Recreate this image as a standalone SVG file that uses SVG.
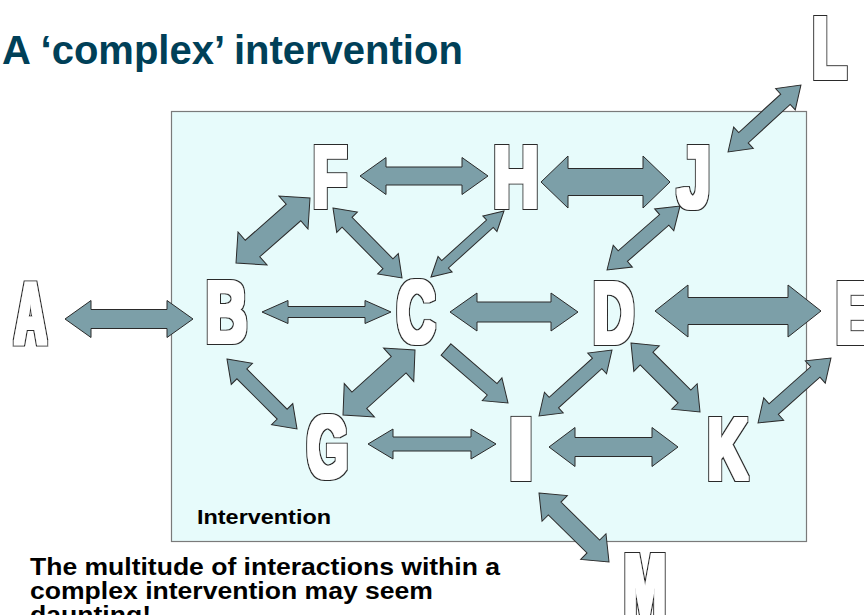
<svg xmlns="http://www.w3.org/2000/svg" width="864" height="615" viewBox="0 0 864 615">
<defs>
<filter id="outlineBold" x="-25%" y="-20%" width="150%" height="140%">
<feMorphology in="SourceAlpha" operator="dilate" radius="2.6" result="outer"/>
<feFlood flood-color="#2A2A2A" result="darkc"/>
<feComposite in="darkc" in2="outer" operator="in" result="dark"/>
<feMorphology in="SourceAlpha" operator="dilate" radius="1.5" result="inner"/>
<feFlood flood-color="#FFFFFF" result="whitec"/>
<feComposite in="whitec" in2="inner" operator="in" result="white"/>
<feMerge><feMergeNode in="dark"/><feMergeNode in="white"/></feMerge>
</filter>
<style>
.arr{fill:#7C9FA8;stroke:#2A2A2A;stroke-width:1;stroke-linejoin:miter}
.ltr{font-family:"Liberation Sans",Arial,sans-serif;font-weight:bold;font-size:88px;fill:#000000;text-anchor:middle;filter:url(#outlineBold)}
.body{font-family:"Liberation Sans",Arial,sans-serif;font-weight:bold;fill:#000000}
</style>
</defs>
<rect width="864" height="615" fill="#FFFFFF"/>
<text x="2" y="64" font-family="'Liberation Sans',Arial,sans-serif" font-weight="bold" font-size="40" fill="#004058">A ‘complex’ intervention</text>
<g id="intervention-box">
<rect x="171.5" y="111.5" width="635" height="430" fill="#E7FBFB" stroke="#7A7A7A" stroke-width="1.2"/>
<text class="body" x="197" y="524" font-size="20" textLength="134" lengthAdjust="spacingAndGlyphs">Intervention</text>
</g>
<g id="connectors">
<polygon class="arr" transform="translate(65,319)" points="0,0 26,-18.5 26,-9.5 102,-9.5 102,-18.5 128,0 102,18.5 102,9.5 26,9.5 26,18.5"/>
<polygon class="arr" transform="translate(262,312)" points="0,0 26,-11.5 26,-5.5 103,-5.5 103,-11.5 129,0 103,11.5 103,5.5 26,5.5 26,11.5"/>
<polygon class="arr" transform="translate(450,312)" points="0,0 27,-19 27,-10 101,-10 101,-19 128,0 101,19 101,10 27,10 27,19"/>
<polygon class="arr" transform="translate(655,311)" points="0,0 33,-26 33,-13.5 133,-13.5 133,-26 166,0 133,26 133,13.5 33,13.5 33,26"/>
<polygon class="arr" transform="translate(360,176)" points="0,0 26,-18.5 26,-9 102,-9 102,-18.5 128,0 102,18.5 102,9 26,9 26,18.5"/>
<polygon class="arr" transform="translate(541,182)" points="0,0 27,-26 27,-13.5 102,-13.5 102,-26 129,0 102,26 102,13.5 27,13.5 27,26"/>
<polygon class="arr" transform="translate(728,152) rotate(-42.55)" points="0,0 21,-14.5 21,-7 78,-7 78,-14.5 99,0 78,14.5 78,7 21,7 21,14.5"/>
<polygon class="arr" transform="translate(236,263) rotate(-41.3)" points="0,0 22,-22 22,-11 76.5,-11 76.5,-22 98.5,0 76.5,22 76.5,11 22,11 22,22"/>
<polygon class="arr" transform="translate(333,208) rotate(45.41)" points="0,0 20,-14.5 20,-7 78.3,-7 78.3,-14.5 98.3,0 78.3,14.5 78.3,7 20,7 20,14.5"/>
<polygon class="arr" transform="translate(431,277) rotate(-42.12)" points="0,0 19,-10.5 19,-5 79.4,-5 79.4,-10.5 98.4,0 79.4,10.5 79.4,5 19,5 19,10.5"/>
<polygon class="arr" transform="translate(607,270) rotate(-41.24)" points="0,0 21,-14.5 21,-7 76.1,-7 76.1,-14.5 97.1,0 76.1,14.5 76.1,7 21,7 21,14.5"/>
<polygon class="arr" transform="translate(227,359) rotate(45)" points="0,0 21,-15 21,-7 78,-7 78,-15 99,0 78,15 78,7 21,7 21,15"/>
<polygon class="arr" transform="translate(343,415) rotate(-42.08)" points="0,0 22,-22.5 22,-11 75,-11 75,-22.5 97,0 75,22.5 75,11 22,11 22,22.5"/>
<polygon class="arr" transform="translate(446,349.5) rotate(40.79)" points="0,-7.5 60.9,-7.5 60.9,-15 81.9,0 60.9,15 60.9,7.5 0,7.5"/>
<polygon class="arr" transform="translate(368,444)" points="0,0 25,-15 25,-7 103,-7 103,-15 128,0 103,15 103,7 25,7 25,15"/>
<polygon class="arr" transform="translate(539,416) rotate(-42.12)" points="0,0 20,-14 20,-7 78.4,-7 78.4,-14 98.4,0 78.4,14 78.4,7 20,7 20,14"/>
<polygon class="arr" transform="translate(631,343) rotate(45)" points="0,0 22,-18 22,-9 75.6,-9 75.6,-18 97.6,0 75.6,18 75.6,9 22,9 22,18"/>
<polygon class="arr" transform="translate(549,447)" points="0,0 26,-19.5 26,-9.5 103,-9.5 103,-19.5 129,0 103,19.5 103,9.5 26,9.5 26,19.5"/>
<polygon class="arr" transform="translate(758,423) rotate(-41.68)" points="0,0 21,-15 21,-7 76.7,-7 76.7,-15 97.7,0 76.7,15 76.7,7 21,7 21,15"/>
<polygon class="arr" transform="translate(539,493) rotate(44.59)" points="0,0 22,-18 22,-9 76.3,-9 76.3,-18 98.3,0 76.3,18 76.3,9 22,9 22,18"/>
</g>
<g id="node-A"><text class="ltr" x="30.5" y="342.5" textLength="32" lengthAdjust="spacingAndGlyphs">A</text></g>
<g id="node-B"><text class="ltr" x="226.5" y="341.5" textLength="41" lengthAdjust="spacingAndGlyphs">B</text></g>
<g id="node-C"><text class="ltr" x="416" y="341.5" textLength="38" lengthAdjust="spacingAndGlyphs">C</text></g>
<g id="node-D"><text class="ltr" x="613.5" y="342.5" textLength="41" lengthAdjust="spacingAndGlyphs">D</text></g>
<g id="node-E"><text class="ltr" x="856" y="342.5" textLength="41" lengthAdjust="spacingAndGlyphs">E</text></g>
<g id="node-F"><text class="ltr" x="330" y="206.5" textLength="34" lengthAdjust="spacingAndGlyphs">F</text></g>
<g id="node-H"><text class="ltr" x="516" y="206.5" textLength="46" lengthAdjust="spacingAndGlyphs">H</text></g>
<g id="node-J"><text class="ltr" x="694" y="206.5" textLength="33" lengthAdjust="spacingAndGlyphs">J</text></g>
<g id="node-G"><text class="ltr" x="327.5" y="476.5" textLength="41" lengthAdjust="spacingAndGlyphs">G</text></g>
<g id="node-I"><text class="ltr" x="521" y="478.5" textLength="29" lengthAdjust="spacingAndGlyphs">I</text></g>
<g id="node-K"><text class="ltr" x="727.5" y="478.5" textLength="40" lengthAdjust="spacingAndGlyphs">K</text></g>
<g id="node-L"><text class="ltr" x="829.5" y="77.5" textLength="34" lengthAdjust="spacingAndGlyphs">L</text></g>
<g id="node-M"><text class="ltr" x="645" y="614.5" textLength="42" lengthAdjust="spacingAndGlyphs">M</text></g>
<g id="caption">
<text class="body" x="30" y="575" font-size="23.5" textLength="470" lengthAdjust="spacingAndGlyphs">The multitude of interactions within a</text>
<text class="body" x="30" y="599" font-size="23.5" textLength="403" lengthAdjust="spacingAndGlyphs">complex intervention may seem</text>
<text class="body" x="30" y="623" font-size="23.5" textLength="121" lengthAdjust="spacingAndGlyphs">daunting!</text>
</g>
</svg>
